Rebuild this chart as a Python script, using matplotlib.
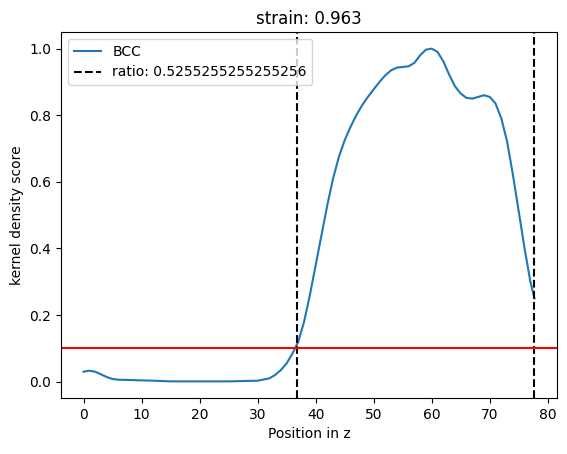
import matplotlib
matplotlib.use("Agg")
import matplotlib.pyplot as plt

z = [0,1,2,3,4,5,6,8,10,12,15,20,25,30,32,33,34,35,36,37,38,39,40,41,42,43,44,45,46,47,48,49,50,51,52,53,54,55,56,57,58,59,60,61,62,63,64,65,66,67,68,69,70,71,72,73,74,75,76,77,77.7]
kde = [0.03,0.033,0.03,0.022,0.014,0.008,0.006,0.005,0.004,0.003,0.001,0.001,0.001,0.003,0.01,0.02,0.035,0.055,0.085,0.12,0.18,0.26,0.35,0.44,0.53,0.61,0.675,0.725,0.765,0.80,0.83,0.855,0.878,0.90,0.92,0.935,0.943,0.945,0.947,0.957,0.98,0.997,1.0,0.99,0.962,0.922,0.887,0.865,0.852,0.85,0.855,0.86,0.855,0.835,0.79,0.72,0.62,0.51,0.40,0.30,0.25]
vlines = [36.8, 77.7]
threshold = 0.1

fig = plt.figure(figsize=(5.67, 4.54), dpi=100)
ax = fig.add_axes([61/567, 56/454, 496/567, 366/454])
ax.plot(z, kde, label="BCC")
ax.axvline(vlines[0], color="k", ls="--", label="ratio: 0.5255255255255256")
ax.axvline(vlines[1], color="k", ls="--")
ax.axhline(threshold, color="r")
ax.set_title("strain: 0.963")
ax.set_xlabel("Position in z")
ax.set_ylabel("kernel density score")
ax.legend(loc="upper left")
fig.savefig("out.png")
